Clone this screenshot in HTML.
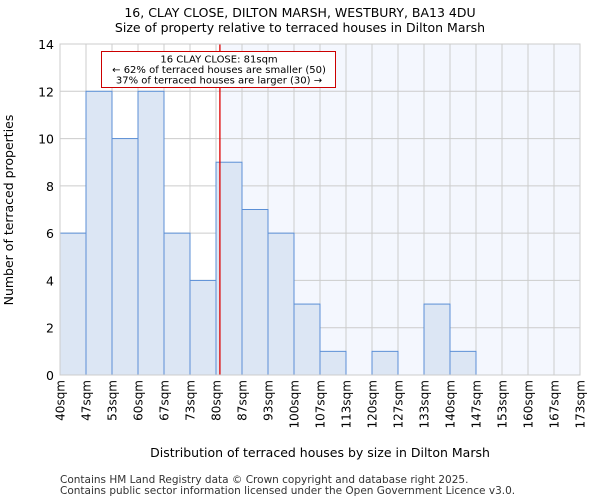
<!DOCTYPE html>
<html><head><meta charset="utf-8"><style>
body{margin:0;background:#fff;font-family:"DejaVu Sans","Liberation Sans",sans-serif}
</style></head><body>
<svg id="chart" width="600" height="500" xmlns="http://www.w3.org/2000/svg" font-family="DejaVu Sans, Liberation Sans, sans-serif">
<text x="300" y="17" text-anchor="middle" font-size="12.5">16, CLAY CLOSE, DILTON MARSH, WESTBURY, BA13 4DU</text>
<text x="300" y="32" text-anchor="middle" font-size="12.5">Size of property relative to terraced houses in Dilton Marsh</text>
<g id="plot"></g>
<text x="320" y="457" text-anchor="middle" font-size="12.5">Distribution of terraced houses by size in Dilton Marsh</text>
<text transform="translate(13,210) rotate(-90)" text-anchor="middle" font-size="12.5">Number of terraced properties</text>
<text x="60" y="483" font-size="10.5" fill="#333">Contains HM Land Registry data © Crown copyright and database right 2025.</text>
<text x="60" y="494" font-size="10.5" fill="#333">Contains public sector information licensed under the Open Government Licence v3.0.</text>
</svg>
<script>
const binLabels=["40sqm","47sqm","53sqm","60sqm","67sqm","73sqm","80sqm","87sqm","93sqm","100sqm","107sqm","113sqm","120sqm","127sqm","133sqm","140sqm","147sqm","153sqm","160sqm","167sqm","173sqm"];
const counts=[6,12,10,12,6,4,9,7,6,3,1,0,1,0,3,1,0,0,0,0];
const yTicks=[0,2,4,6,8,10,12,14];
const propertySize=81;
const binStart=40, binStep=20/3;
const NS="http://www.w3.org/2000/svg";
const L=60,R=580,T=44,B=375,yMax=14;
const bw=(R-L)/counts.length;
const xs=v=>L+(v-binStart)/binStep*bw;
const xi=i=>L+i*bw;
const ys=v=>B-(v/yMax)*(B-T);
const g=document.getElementById('plot');
function mk(t,a){const e=document.createElementNS(NS,t);for(const k in a)e.setAttribute(k,a[k]);g.appendChild(e);return e;}
const px=xs(propertySize);
let e=mk('rect',{x:px,y:T,width:R-px,height:B-T,fill:'#f4f7fe'});


yTicks.forEach(v=>{const l=mk('line',{x1:L,x2:R,y1:ys(v),y2:ys(v),stroke:'#ccc','stroke-width':1});


const t=mk('text',{x:L-6,y:ys(v)+5,'text-anchor':'end','font-size':12.5});t.textContent=v;

});
binLabels.forEach((s,i)=>{const l=mk('line',{x1:xi(i),x2:xi(i),y1:T,y2:B,stroke:'#ccc','stroke-width':1});


const t=mk('text',{transform:`translate(${xi(i)+4.5},${B+5}) rotate(-90)`,'text-anchor':'end','font-size':12});t.textContent=s;

});
counts.forEach((c,i)=>{if(c<=0)return;const r=mk('rect',{x:xi(i),y:ys(c),width:bw,height:B-ys(c),fill:'#dce6f4',stroke:'#5b8fd6','stroke-width':1});

});
e=mk('line',{x1:px,x2:px,y1:T,y2:B,stroke:'#d00','stroke-width':1.3});


e=mk('rect',{x:L,y:T,width:R-L,height:B-T,fill:'none',stroke:'#ccc'});


e=mk('rect',{x:101.5,y:51.5,width:234,height:36,fill:'#fff',stroke:'#cc0000','stroke-width':1});


["16 CLAY CLOSE: 81sqm","← 62% of terraced houses are smaller (50)","37% of terraced houses are larger (30) →"].forEach((s,i)=>{const t=mk('text',{x:219,y:62.5+i*10.5,'text-anchor':'middle','font-size':10});t.textContent=s;

});
</script>
</body></html>
